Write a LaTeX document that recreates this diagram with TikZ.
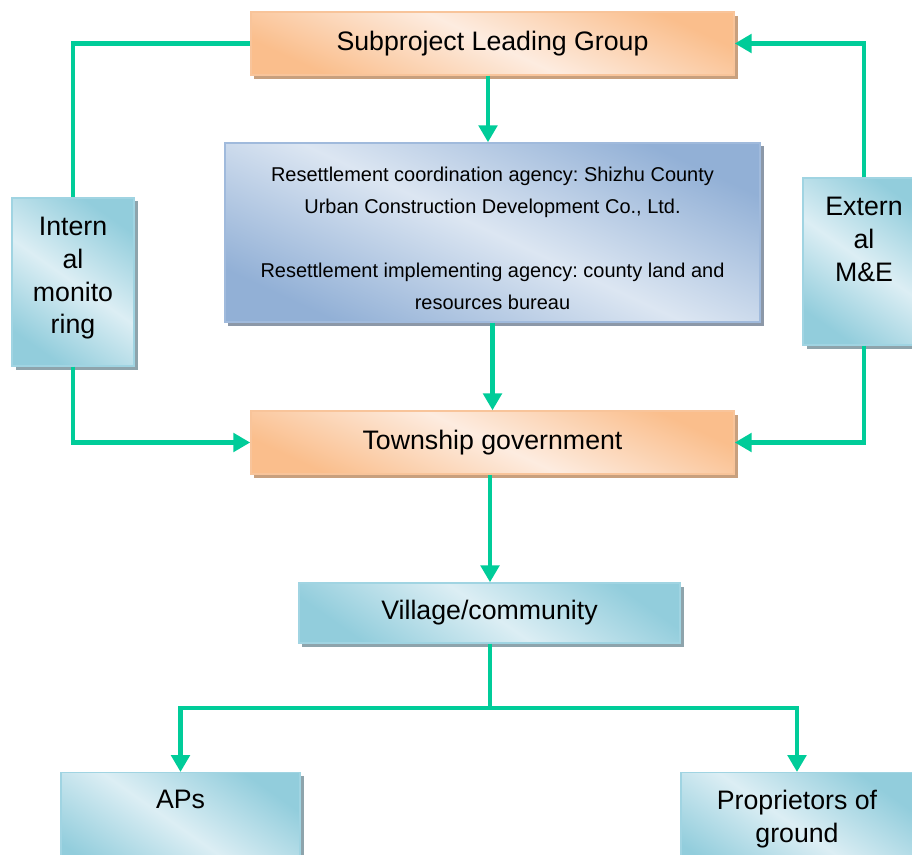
\documentclass[tikz,border=0pt]{standalone}
\usepackage{fontspec}
\setmainfont{Liberation Sans}
\frenchspacing
\usetikzlibrary{arrows.meta,positioning,shadows}
\definecolor{linkgreen}{RGB}{0,204,153}
\definecolor{peachdark}{RGB}{250,190,140}
\definecolor{peachlight}{RGB}{253,236,224}
\definecolor{peachline}{RGB}{248,196,154}
\definecolor{peachshadow}{RGB}{200,160,126}
\definecolor{bluedark}{RGB}{146,176,214}
\definecolor{bluelight}{RGB}{220,230,242}
\definecolor{blueline}{RGB}{160,186,220}
\definecolor{blueshadow}{RGB}{140,152,168}
\definecolor{tealdark}{RGB}{146,205,220}
\definecolor{teallight}{RGB}{220,238,244}
\definecolor{tealline}{RGB}{160,212,226}
\definecolor{tealshadow}{RGB}{142,164,172}
\tikzstyle{box} = [rectangle, line width=1pt, inner sep=2pt, align=center]
\tikzstyle{peach} = [box, draw=peachline, top color=peachdark, bottom color=peachdark,
                 middle color=peachlight, shading angle=-25,
                 drop shadow={shadow xshift=2.5pt, shadow yshift=-2.5pt, opacity=1, fill=peachshadow},
                 minimum width=12.075cm, minimum height=1.575cm,
                 font=\fontsize{19}{23.2}\selectfont]
\tikzstyle{bluish} = [box, draw=blueline, top color=bluedark, bottom color=bluedark,
                 middle color=bluelight, shading angle=-25,
                 drop shadow={shadow xshift=2.5pt, shadow yshift=-2.5pt, opacity=1, fill=blueshadow},
                 font=\fontsize{14.2}{22.7}\selectfont]
\tikzstyle{teal} = [box, draw=tealline, top color=tealdark, bottom color=tealdark,
                 middle color=teallight, shading angle=-35,
                 drop shadow={shadow xshift=2.5pt, shadow yshift=-2.5pt, opacity=1, fill=tealshadow},
                 font=\fontsize{19}{23.2}\selectfont]
\tikzstyle{tag} = [inner sep=0pt, align=center, font=\fontsize{19}{23.2}\selectfont]
\tikzstyle{link} = [line width=3.5pt, draw=linkgreen]
\tikzstyle{flow} = [link, -{Triangle[length=12pt,width=13pt]}]

\begin{document}
\begin{tikzpicture}[x=0.025cm, y=-0.025cm]

\clip (0,0) rectangle (912,854);

\node [peach] at (492.5,43.5) (lead) {Subproject Leading Group};
\node [bluish, minimum width=13.375cm, minimum height=4.475cm] at (492.5,232.5) (coord)
	{\rule{0pt}{18.7pt}Resettlement coordination agency: Shizhu County\\
	 Urban Construction Development Co., Ltd.\\[22.7pt]
	 Resettlement implementing agency: county land and\\
	 resources bureau};
\node [peach] at (492.5,442.5) (town) {Township government};
\node [teal, minimum width=9.525cm, minimum height=1.5cm] at (489.5,613) (village) {Village/community};

	%side boxes, text hangs from the top
\node [teal, minimum width=3.05cm, minimum height=4.2cm] at (73,282) (intmon) {};
\node [tag, below=0.5cm of intmon.north] (intmontext) {Intern\\al\\monito\\ring};
\node [teal, minimum width=3.05cm, minimum height=4.175cm] at (864,261.5) (extme) {};
\node [tag, below=0.5cm of extme.north] (extmetext) {Extern\\al\\M\&E};

	%bottom row
\node [teal, anchor=north, minimum width=5.975cm, minimum height=2.75cm] at (180.5,772) (aps) {};
\node [tag, below=0.45cm of aps.north] (apstext) {APs};
\node [teal, anchor=north, minimum width=5.8cm, minimum height=2.75cm] at (797,772) (prop) {};
\node [tag, below=0.45cm of prop.north] (proptext) {Proprietors of\\ground};

\coordinate (split) at (490,708);

\path [flow] (lead.south -| 488,0) -- (coord.north -| 488,0);
\path [flow] (coord.south) -- (town.north);
\path [link] (lead.west) -| (intmon.north);
\path [flow] (intmon.south) |- (town.west);
\path [flow] (extme.north) |- (lead.east);
\path [flow] (extme.south) |- (town.east);
\path [flow] (town.south -| split) -- (village.north -| split);
\path [link] (village.south -| split) -- (split);
\path [flow] (split) -| (aps.north);
\path [flow] (split) -| (prop.north);

\end{tikzpicture}
\end{document}
